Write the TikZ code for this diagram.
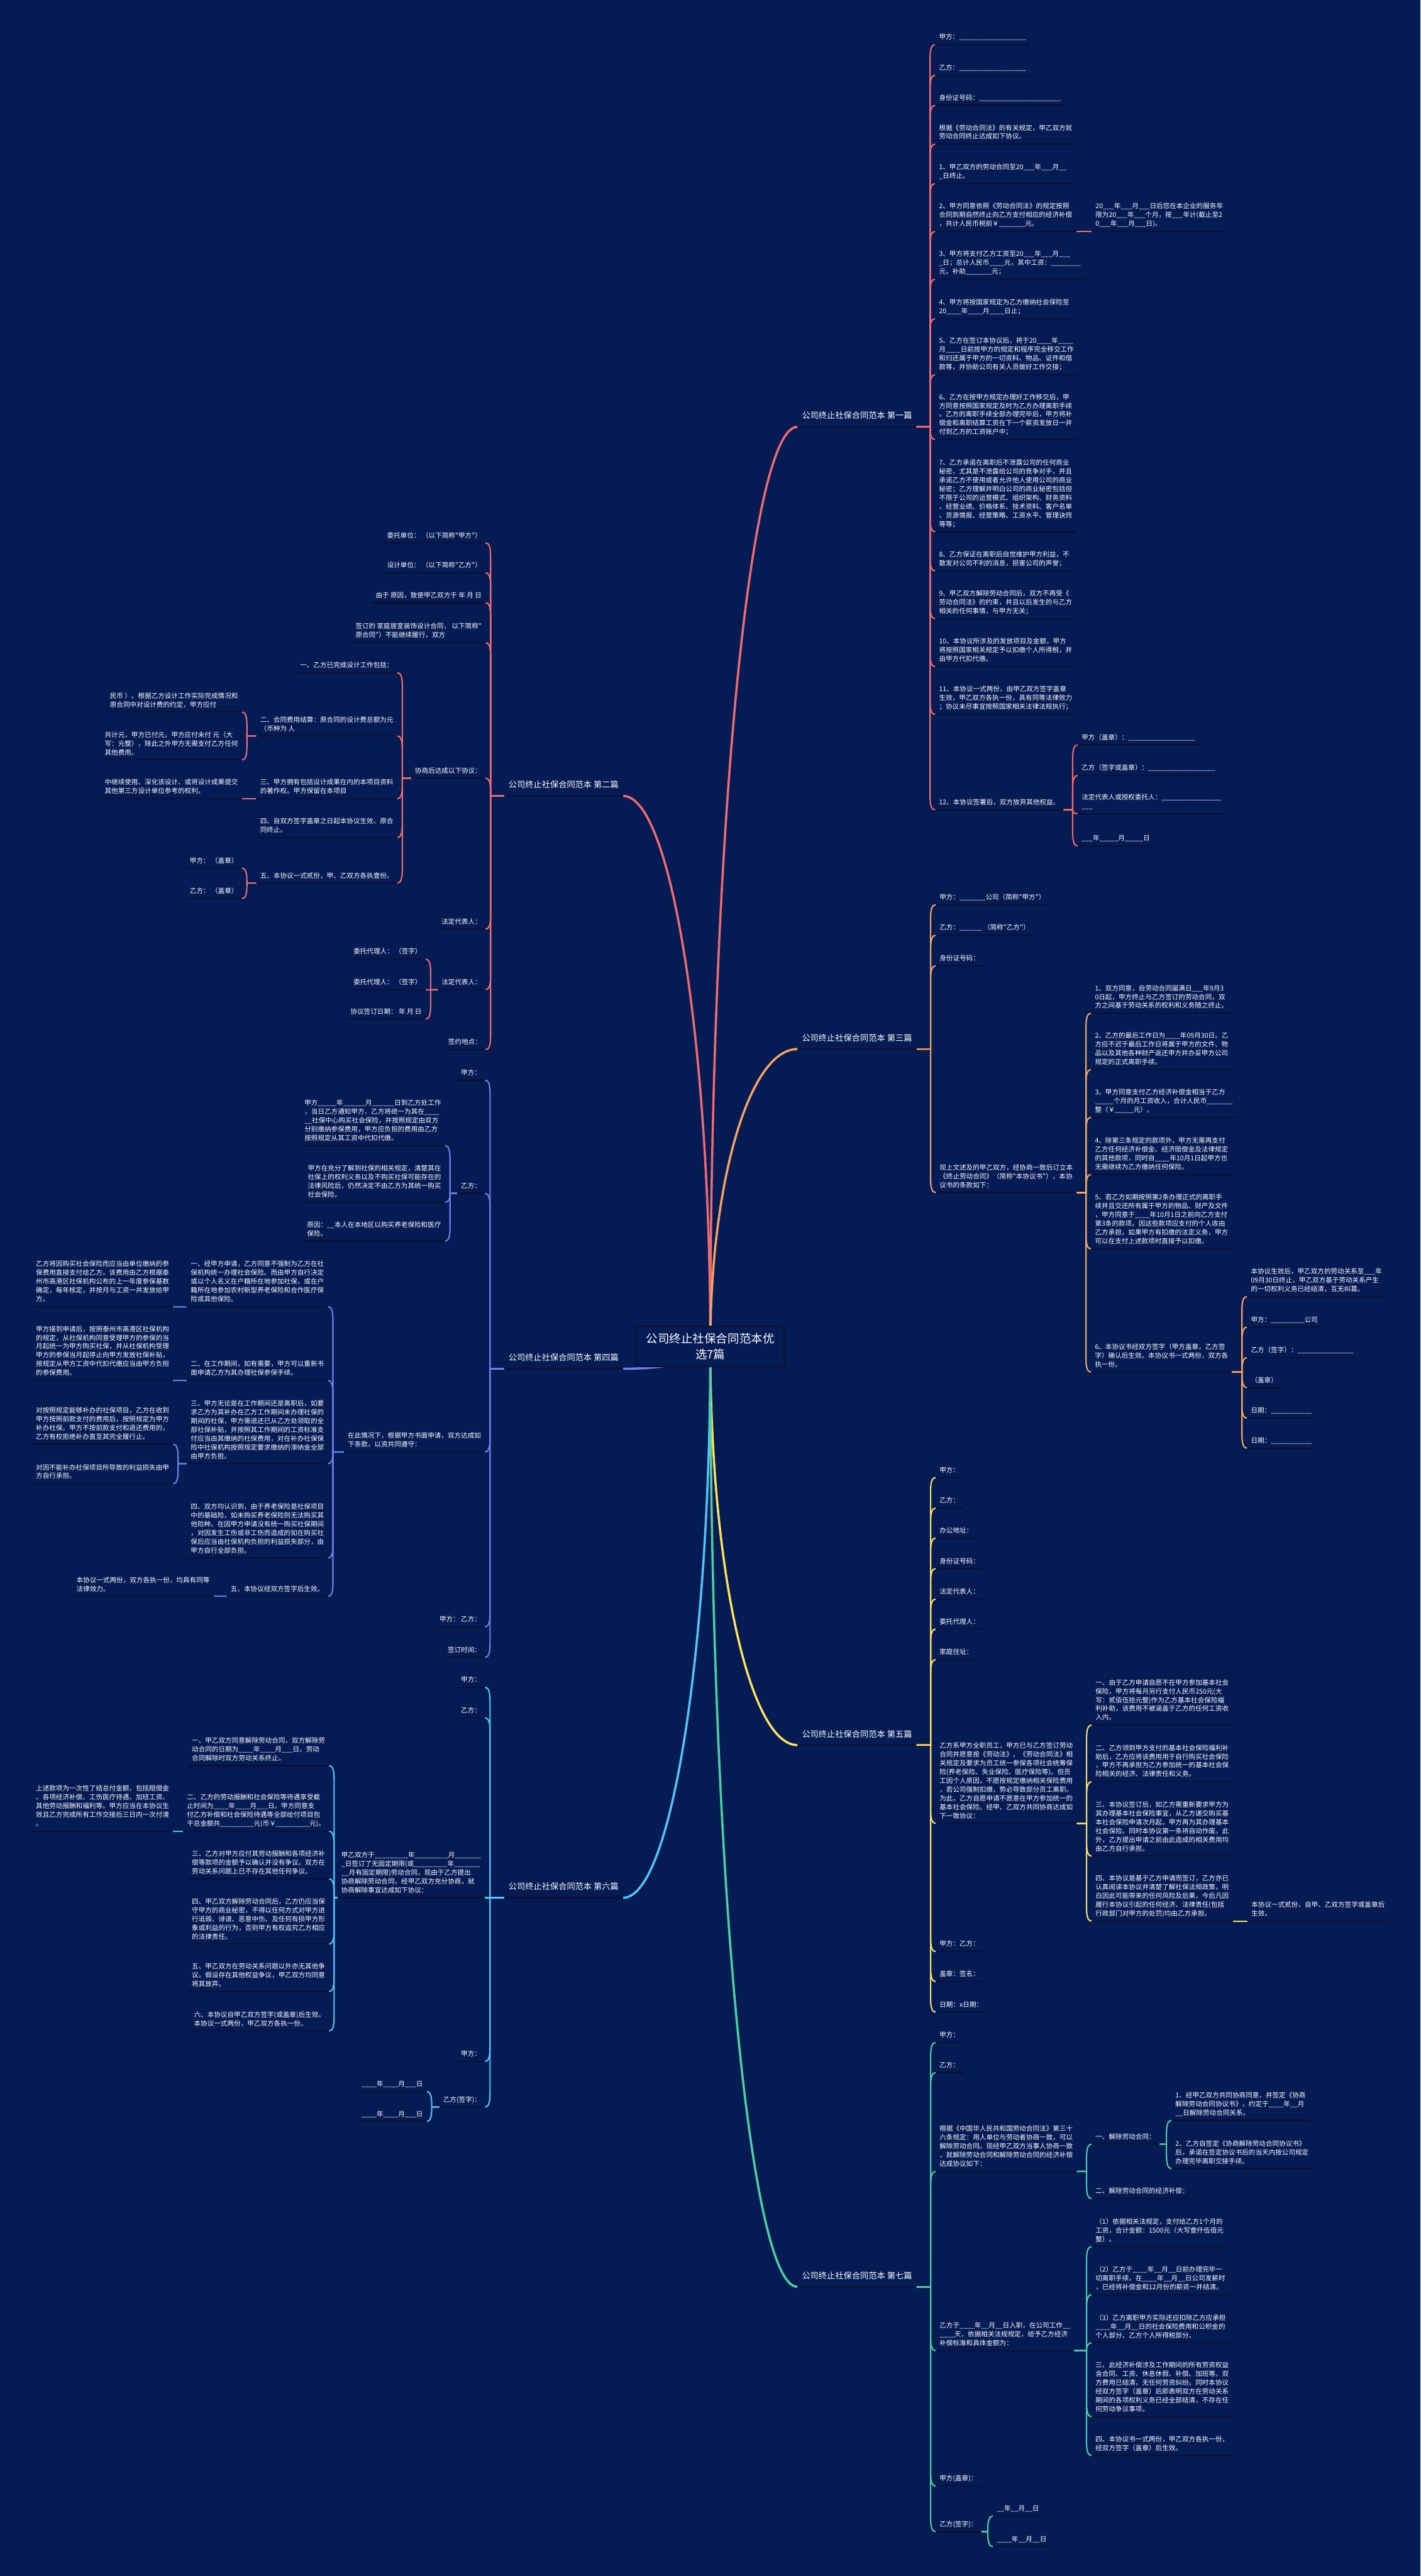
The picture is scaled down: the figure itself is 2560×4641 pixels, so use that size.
\documentclass[tikz,border=0pt]{standalone}
\usepackage{fontspec}
\newfontfamily\cjk{Noto Sans CJK SC}
\usetikzlibrary{calc}
\definecolor{bg}{HTML}{051B54}
\definecolor{ulc}{HTML}{0B1030}
\definecolor{cA}{HTML}{F06A6F}
\definecolor{cB}{HTML}{F7A35E}
\definecolor{cC}{HTML}{6F80E8}
\definecolor{cD}{HTML}{FDE15B}
\definecolor{cE}{HTML}{53C5F5}
\definecolor{cF}{HTML}{4CD0A0}
\newcount\ulxc
\newcommand\ulx[1]{\ulxc=#1\relax\loop\ifnum\ulxc>0 \_\advance\ulxc by -1\relax\repeat}
\tikzset{
 leaf/.style={font=\cjk\fontsize{12}{15.8}\selectfont, text=white, align=left, inner xsep=7pt, inner ysep=4.3pt, execute at end node=\strut},
 lab/.style={font=\cjk\fontsize{15}{18}\selectfont, text=white, inner xsep=8pt, inner ysep=8.9pt, execute at end node=\strut},
 uline/.style={draw=ulc, line width=2.4pt},
 conn/.style={line width=2.4pt},
 mainl/.style={line width=4pt}
}
\newcommand\nR[4]{\node[leaf,anchor=south west] (#1) at (#2,#3) {#4};\draw[uline] (#1.south west) -- (#1.south east);}
\newcommand\nL[4]{\node[leaf,anchor=south east] (#1) at (#2,#3) {#4};\draw[uline] (#1.south west) -- (#1.south east);}
\newcommand\cR[3]{\draw[conn,#1] let \p1=(#2.south east), \p2=(#3.south west), \n1={sign(\y1-(\y2))}, \n2={min(24,abs(\y1-(\y2)))} in (\p1) -- (\x2-9pt,\y1) -- (\x2-9pt,{\y2+(\n1)*(\n2)*1pt}) .. controls (\x2-9pt,{\y2+(\n1)*(\n2)*0.3pt}) and (\x2-6pt,\y2) .. (\p2);}
\newcommand\cL[3]{\draw[conn,#1] let \p1=(#2.south west), \p2=(#3.south east), \n1={sign(\y1-(\y2))}, \n2={min(24,abs(\y1-(\y2)))} in (\p1) -- (\x2+9pt,\y1) -- (\x2+9pt,{\y2+(\n1)*(\n2)*1pt}) .. controls (\x2+9pt,{\y2+(\n1)*(\n2)*0.3pt}) and (\x2+6pt,\y2) .. (\p2);}
\newcommand\cM[3]{\draw[mainl,#1] let \p0=(ctrc), \p1=(#2.#3) in (\p0) .. controls (\x0,{\y0+0.552*(\y1-(\y0))}) and ({\x1-0.552*(\x1-(\x0))},\y1) .. (\p1);}
\begin{document}
\begin{tikzpicture}[x=1pt,y=-1pt]
\fill[bg] (0,0) rectangle (2560,4641);
\useasboundingbox (0,0) rectangle (2560,4641);
\coordinate (ctrc) at (1280,2426);
% ---------- labels
\node[lab,anchor=south west] (L1) at (1437,769) {公司终止社保合同范本 第一篇};
\node[lab,anchor=south east] (L2) at (1123,1434) {公司终止社保合同范本 第二篇};
\node[lab,anchor=south west] (L3) at (1437,1890) {公司终止社保合同范本 第三篇};
\node[lab,anchor=south east] (L4) at (1123,2466) {公司终止社保合同范本 第四篇};
\node[lab,anchor=south west] (L5) at (1437,3144) {公司终止社保合同范本 第五篇};
\node[lab,anchor=south east] (L6) at (1123,3419) {公司终止社保合同范本 第六篇};
\node[lab,anchor=south west] (L7) at (1437,4120) {公司终止社保合同范本 第七篇};
\foreach \l in {L1,L2,L3,L4,L5,L6,L7}{\draw[uline] (\l.south west) -- (\l.south east);}
% ---------- branch 1
\nR{a1}{1685}{80.5}{甲方：\ulx{18}}
\nR{a2}{1685}{135.6}{乙方：\ulx{18}}
\nR{a3}{1685}{189.8}{身份证号码：\ulx{22}}
\nR{a4}{1685}{259.6}{根据《劳动合同法》的有关规定，甲乙双方就\\劳动合同终止达成如下协议。}
\nR{a5}{1685}{330.8}{1、甲乙双方的劳动合同至20\ulx{3}年\ulx{3}月\ulx{2}\\\ulx{1}日终止。}
\nR{a6}{1685}{417}{2、甲方同意依照《劳动合同法》的规定按照\\合同到期自然终止向乙方支付相应的经济补偿\\，共计人民币税前￥\ulx{7}元。}
\nR{a6a}{1967}{417}{20\ulx{3}年\ulx{3}月\ulx{3}日后您在本企业的服务年\\限为20\ulx{3}年\ulx{3}个月，按\ulx{3}年计(截止至2\\0\ulx{3}年\ulx{3}月\ulx{3}日)。}
\nR{a7}{1685}{503}{3、甲方将支付乙方工资至20\ulx{3}年\ulx{3}月\ulx{3}\\\ulx{1}日；总计人民币\ulx{4}元，其中工资：\ulx{8}\\元，补助\ulx{7}元；}
\nR{a8}{1685}{574}{4、甲方将按国家规定为乙方缴纳社会保险至\\20\ulx{4}年\ulx{4}月\ulx{4}日止；}
\nR{a9}{1685}{675}{5、乙方在签订本协议后，将于20\ulx{4}年\ulx{4}\\月\ulx{4}日前按甲方的规定和程序完全移交工作\\和归还属于甲方的一切资料、物品、证件和借\\款等，并协助公司有关人员做好工作交接；}
\nR{a10}{1685}{792}{6、乙方在按甲方规定办理好工作移交后，甲\\方同意按照国家规定及时为乙方办理离职手续\\。乙方的离职手续全部办理完毕后，甲方将补\\偿金和离职结算工资在下一个薪资发放日一并\\付到乙方的工资账户中；}
\nR{a11}{1685}{958}{7、乙方承诺在离职后不泄露公司的任何商业\\秘密，尤其是不泄露给公司的竞争对手，并且\\承诺乙方不使用或者允许他人使用公司的商业\\秘密；乙方理解并明白公司的商业秘密包括但\\不限于公司的运营模式、组织架构、财务资料\\、经营业绩、价格体系、技术资料、客户名单\\、货源情报、经营策略、工资水平、管理诀窍\\等等；}
\nR{a12}{1685}{1028.5}{8、乙方保证在离职后自觉维护甲方利益，不\\散发对公司不利的消息，损害公司的声誉；}
\nR{a13}{1685}{1114.5}{9、甲乙双方解除劳动合同后，双方不再受《\\劳动合同法》的约束，并且以后发生的与乙方\\相关的任何事情，与甲方无关；}
\nR{a14}{1685}{1201}{10、本协议所涉及的发放项目及金额，甲方\\将按照国家相关规定予以扣缴个人所得税，并\\由甲方代扣代缴。}
\nR{a15}{1685}{1287}{11、本协议一式两份，由甲乙双方签字盖章\\生效，甲乙双方各执一份，具有同等法律效力\\；协议未尽事宜按照国家相关法律法规执行；}
\nR{a16}{1685}{1459}{12、本协议签署后，双方放弃其他权益。}
\nR{a16a}{1942}{1342}{甲方（盖章）：\ulx{18}}
\nR{a16b}{1942}{1397}{乙方（签字或盖章）：\ulx{18}}
\nR{a16c}{1942}{1466}{法定代表人或授权委托人：\ulx{16}\\\ulx{3}}
\nR{a16d}{1942}{1524}{\ulx{3}年\ulx{5}月\ulx{5}日}
\foreach \c in {a1,a2,a3,a4,a5,a6,a7,a8,a9,a10,a11,a12,a13,a14,a15,a16}{\cR{cA}{L1}{\c}}
\cR{cA}{a6}{a6a}
\foreach \c in {a16a,a16b,a16c,a16d}{\cR{cA}{a16}{\c}}
% ---------- branch 2
\nL{b1}{875}{978}{委托单位： （以下简称"甲方"）}
\nL{b2}{875}{1032}{设计单位： （以下简称"乙方"）}
\nL{b3}{875}{1086}{由于 原因，致使甲乙双方于 年 月 日}
\nL{b4}{875}{1158}{签订的 家庭居室装饰设计合同， 以下简称"\\原合同"）不能继续履行，双方}
\nL{b5}{875}{1402}{协商后达成以下协议：}
\nL{b5a}{716}{1212}{一、乙方已完成设计工作包括：}
\nL{b5b}{716}{1326}{二、合同费用结算：原合同的设计费总额为元\\（币种为 人}
\nL{b5b1}{436}{1283}{民币 ）。根据乙方设计工作实际完成情况和\\原合同中对设计费的约定，甲方应付}
\nL{b5b2}{436}{1369}{共计元，甲方已付元，甲方应付未付 元（大\\写：元整），除此之外甲方无需支付乙方任何\\其他费用。}
\nL{b5c}{716}{1439}{三、甲方拥有包括设计成果在内的本项目资料\\的著作权。甲方保留在本项目}
\nL{b5c1}{436}{1439}{中继续使用、深化该设计、或将设计成果提交\\其他第三方设计单位参考的权利。}
\nL{b5d}{716}{1509}{四、自双方签字盖章之日起本协议生效、原合\\同终止。}
\nL{b5e}{716}{1591}{五、本协议一式贰份，甲、乙双方各执壹份。}
\nL{b5e1}{436}{1564}{甲方： （盖章）}
\nL{b5e2}{436}{1619}{乙方： （盖章）}
\nL{b6}{875}{1674}{法定代表人：}
\nL{b7}{875}{1783}{法定代表人：}
\nL{b7a}{767}{1728}{委托代理人： （签字）}
\nL{b7b}{767}{1783}{委托代理人： （签字）}
\nL{b7c}{767}{1836}{协议签订日期： 年 月 日}
\nL{b8}{875}{1891}{签约地点：}
\foreach \c in {b1,b2,b3,b4,b5,b6,b7,b8}{\cL{cA}{L2}{\c}}
\foreach \c in {b5a,b5b,b5c,b5d,b5e}{\cL{cA}{b5}{\c}}
\foreach \c in {b5b1,b5b2}{\cL{cA}{b5b}{\c}}
\cL{cA}{b5c}{b5c1}
\foreach \c in {b5e1,b5e2}{\cL{cA}{b5e}{\c}}
\foreach \c in {b7a,b7b,b7c}{\cL{cA}{b7}{\c}}
% ---------- branch 3
\nR{c1}{1686}{1630}{甲方：\ulx{7}公司（简称"甲方"）}
\nR{c2}{1686}{1685}{乙方：\ulx{6} （简称"乙方"）}
\nR{c3}{1686}{1740}{身份证号码：}
\nR{c4}{1686}{2148.5}{现上文述及的甲乙双方，经协商一致后订立本\\《终止劳动合同》（简称"本协议书"），本协\\议书的条款如下：}
\nR{c4a}{1966}{1825.5}{1、双方同意，自劳动合同届满日\ulx{3}年9月3\\0日起，甲方终止与乙方签订的劳动合同，双\\方之间基于劳动关系的权利和义务随之终止。}
\nR{c4b}{1966}{1927}{2、乙方的最后工作日为\ulx{4}年09月30日。乙\\方应不迟于最后工作日将属于甲方的文件、物\\品以及其他各种财产返还甲方并办妥甲方公司\\规定的正式离职手续。}
\nR{c4c}{1966}{2013}{3、甲方同意支付乙方经济补偿金相当于乙方\\\ulx{5}个月的月工资收入，合计人民币\ulx{7}\\整（￥\ulx{5}元）。}
\nR{c4d}{1966}{2116}{4、除第三条规定的款项外，甲方无需再支付\\乙方任何经济补偿金、经济赔偿金及法律规定\\的其他款项，同时自\ulx{4}年10月1日起甲方也\\无需继续为乙方缴纳任何保险。}
\nR{c4e}{1966}{2250}{5、若乙方如期按照第2条办理正式的离职手\\续并且交还所有属于甲方的物品、财产及文件\\，甲方同意于\ulx{4}年10月1日之前向乙方支付\\第3条的款项。因这些款项应支付的个人收由\\乙方承担，如果甲方有扣缴的法定义务，甲方\\可以在支付上述款项时直接予以扣缴。}
\nR{c4f}{1966}{2472}{6、本协议书经双方签字（甲方盖章，乙方签\\字）确认后生效。本协议书一式两份，双方各\\执一份。}
\nR{c4f1}{2247}{2336}{本协议生效后，甲乙双方的劳动关系至\ulx{3}年\\09月30日终止，甲乙双方基于劳动关系产生\\的一切权利义务已经结清，互无纠葛。}
\nR{c4f2}{2247}{2391}{甲方：\ulx{9}公司}
\nR{c4f3}{2247}{2446}{乙方（签字）：\ulx{15}}
\nR{c4f4}{2247}{2500}{（盖章）}
\nR{c4f5}{2247}{2555}{日期：\ulx{11}}
\nR{c4f6}{2247}{2609}{日期：\ulx{11}}
\foreach \c in {c1,c2,c3,c4}{\cR{cB}{L3}{\c}}
\foreach \c in {c4a,c4b,c4c,c4d,c4e,c4f}{\cR{cB}{c4}{\c}}
\foreach \c in {c4f1,c4f2,c4f3,c4f4,c4f5,c4f6}{\cR{cB}{c4f}{\c}}
% ---------- branch 4
\nL{d1}{874}{1946}{甲方：}
\nL{d2}{874}{2150}{乙方：}
\nL{d2a}{802}{2064}{甲方\ulx{5}年\ulx{6}月\ulx{6}日到乙方处工作\\，当日乙方通知甲方，乙方将统一为其在\ulx{4}\\\ulx{2}社保中心购买社会保险，并按照规定由双方\\分别缴纳参保费用，甲方应负担的费用由乙方\\按照规定从其工资中代扣代缴。}
\nL{d2b}{802}{2166}{甲方在充分了解到社保的相关规定，清楚其在\\社保上的权利义务以及不购买社保可能存在的\\法律风险后，仍然决定不由乙方为其统一购买\\社会保险。}
\nL{d2c}{802}{2236}{原因：\ulx{2}本人在本地区以购买养老保险和医疗\\保险。}
\nL{d3}{874}{2616}{在此情况下，根据甲方书面申请，双方达成如\\下条款，以资共同遵守：}
\nL{d3a}{591}{2354}{一、经甲方申请，乙方同意不强制为乙方在社\\保机构统一办理社会保险。而由甲方自行决定\\或以个人名义在户籍所在地参加社保，或在户\\籍所在地参加农村新型养老保险和合作医疗保\\险或其他保险。}
\nL{d3a1}{312}{2354}{乙方将因购买社会保险而应当由单位缴纳的参\\保费用直接支付给乙方。该费用由乙方根据泰\\州市高港区社保机构公布的上一年度参保基数\\确定，每年核定，并按月与工资一并发放给甲\\方。}
\nL{d3b}{591}{2487}{二、在工作期间，如有需要，甲方可以重新书\\面申请乙方为其办理社保参保手续。}
\nL{d3b1}{312}{2487}{甲方接到申请后，按照泰州市高港区社保机构\\的规定，从社保机构同意受理甲方的参保的当\\月起统一为甲方购买社保，并从社保机构受理\\甲方的参保当月起停止向甲方发放社保补贴，\\按规定从甲方工资中代扣代缴应当由甲方负担\\的参保费用。}
\nL{d3c}{591}{2637}{三、甲方无论是在工作期间还是离职后，如要\\求乙方为其补办在乙方工作期间未办理社保的\\期间的社保，甲方需退还已从乙方处领取的全\\部社保补贴，并按照其工作期间的工资标准支\\付应当由其缴纳的社保费用，对在补办社保保\\险中社保机构按照规定要求缴纳的滞纳金全部\\由甲方负担。}
\nL{d3c1}{312}{2602}{对按照规定能够补办的社保项目，乙方在收到\\甲方按照前款支付的费用后，按照规定为甲方\\补办社保。甲方不按前款支付和退还费用的，\\乙方有权拒绝补办直至其完全履行止。}
\nL{d3c2}{312}{2673}{对因不能补办社保项目所导致的利益损失由甲\\方自行承担。}
\nL{d3d}{591}{2807}{四、双方均认识到，由于养老保险是社保项目\\中的基础险，如未购买养老保险则无法购买其\\他险种。在因甲方申请没有统一购买社保期间\\，对因发生工伤或非工伤而造成的如在购买社\\保后应当由社保机构负担的利益损失部分，由\\甲方自行全部负担。}
\nL{d3e}{591}{2876}{五、本协议经双方签字后生效。}
\nL{d3e1}{385}{2876}{本协议一式两份，双方各执一份，均具有同等\\法律效力。}
\nL{d4}{874}{2931}{甲方： 乙方：}
\nL{d5}{874}{2986}{签订时间：}
\foreach \c in {d1,d2,d3,d4,d5}{\cL{cC}{L4}{\c}}
\foreach \c in {d2a,d2b,d2c}{\cL{cC}{d2}{\c}}
\foreach \c in {d3a,d3b,d3c,d3d,d3e}{\cL{cC}{d3}{\c}}
\cL{cC}{d3a}{d3a1}
\cL{cC}{d3b}{d3b1}
\foreach \c in {d3c1,d3c2}{\cL{cC}{d3c}{\c}}
\cL{cC}{d3e}{d3e1}
% ---------- branch 5
\nR{e1}{1686}{2662}{甲方：}
\nR{e2}{1686}{2717}{乙方：}
\nR{e3}{1686}{2771}{办公地址：}
\nR{e4}{1686}{2826}{身份证号码：}
\nR{e5}{1686}{2881}{法定代表人：}
\nR{e6}{1686}{2935}{委托代理人：}
\nR{e7}{1686}{2990}{家庭住址：}
\nR{e8}{1686}{3285}{乙方系甲方全职员工，甲方已与乙方签订劳动\\合同并愿意按《劳动法》、《劳动合同法》相\\关规定及要求为员工统一参保各项社会统筹保\\险(养老保险、失业保险、医疗保险等)。但员\\工因个人原因，不愿按规定缴纳相关保险费用\\，若公司强制扣缴，势必导致部分员工离职。\\为此，乙方自愿申请不愿意在甲方参加统一的\\基本社会保险。经甲、乙双方共同协商达成如\\下一致协议：}
\nR{e8a}{1967}{3108}{一、由于乙方申请自愿不在甲方参加基本社会\\保险，甲方将每月另行支付人民币250元(大\\写：贰佰伍拾元整)作为乙方基本社会保险福\\利补助，该费用不被涵盖于乙方的任何工资收\\入内。}
\nR{e8b}{1967}{3210}{二、乙方领到甲方支付的基本社会保险福利补\\助后，乙方应将该费用用于自行购买社会保险\\，甲方不再承担为乙方参加统一的基本社会保\\险相关的经济、法律责任和义务。}
\nR{e8c}{1967}{3344}{三、本协议签订后，如乙方需重新要求甲方为\\其办理基本社会保险事宜，从乙方递交购买基\\本社会保险申请次月起，甲方再为其办理基本\\社会保险。同时本协议第一条将自动作废。此\\外，乙方提出申请之前由此造成的相关费用均\\由乙方自行承担。}
\nR{e8d}{1967}{3461}{四、本协议是基于乙方申请而签订，乙方亦已\\认真阅读本协议并清楚了解社保法规政策，明\\白因此可能带来的任何风险及后果，今后凡因\\履行本协议引起的任何经济、法律责任(包括\\行政部门对甲方的处罚)均由乙方承担。}
\nR{e8d1}{2248}{3461}{本协议一式贰份，自甲、乙双方签字或盖章后\\生效。}
\nR{e9}{1686}{3516}{甲方：乙方：}
\nR{e10}{1686}{3570}{盖章：签名：}
\nR{e11}{1686}{3625}{日期：x日期：}
\foreach \c in {e1,e2,e3,e4,e5,e6,e7,e8,e9,e10,e11}{\cR{cD}{L5}{\c}}
\foreach \c in {e8a,e8b,e8c,e8d}{\cR{cD}{e8}{\c}}
\cR{cD}{e8d}{e8d1}
% ---------- branch 6
\nL{f1}{874}{3040}{甲方：}
\nL{f2}{874}{3095}{乙方：}
\nL{f3}{874}{3419}{甲乙双方于\ulx{9}年\ulx{9}月\ulx{7}\\\ulx{1}日签订了无固定期限(或\ulx{9}年\ulx{7}\\\ulx{2}月有固定期限)劳动合同，现由于乙方提出\\协商解除劳动合同，经甲乙双方充分协商，就\\协商解除事宜达成如下协议：}
\nL{f3a}{593}{3181}{一、甲乙双方同意解除劳动合同，双方解除劳\\动合同的日期为\ulx{4}年\ulx{4}月\ulx{3}日。劳动\\合同解除时双方劳动关系终止。}
\nL{f3b}{593}{3299}{二、乙方的劳动报酬和社会保险等待遇享受截\\止时间为\ulx{4}年\ulx{4}月\ulx{3}日。甲方同意支\\付乙方补偿和社会保险待遇等全部给付项目包\\干总金额共\ulx{9}元(币￥\ulx{9}元)。}
\nL{f3b1}{312}{3299}{上述款项为一次性了结总付金额，包括赔偿金\\、各项经济补偿、工伤医疗待遇、加班工资、\\其他劳动报酬和福利等。甲方应当在本协议生\\效且乙方完成所有工作交接后三日内一次付清\\。}
\nL{f3c}{593}{3385}{三、乙方对甲方应付其劳动报酬和各项经济补\\偿等款项的金额予以确认并没有争议。双方在\\劳动关系问题上已不存在其他任何争议。}
\nL{f3d}{593}{3502.5}{四、甲乙双方解除劳动合同后，乙方仍应当保\\守甲方的商业秘密，不得以任何方式对甲方进\\行诋毁、诽谤、恶意中伤、及任何有损甲方形\\象或利益的行为，否则甲方有权追究乙方相应\\的法律责任。}
\nL{f3e}{593}{3588}{五、甲乙双方在劳动关系问题以外亦无其他争\\议。假设存在其他权益争议，甲乙双方均同意\\将其放弃。}
\nL{f3f}{593}{3659}{六、本协议自甲乙双方签字(或盖章)后生效。\\本协议一式两份，甲乙双方各执一份。}
\nL{f4}{874}{3714}{甲方：}
\nL{f5}{874}{3796}{乙方(签字)：}
\nL{f5a}{769}{3768}{\ulx{4}年\ulx{4}月\ulx{3}日}
\nL{f5b}{769}{3822}{\ulx{4}年\ulx{4}月\ulx{3}日}
\foreach \c in {f1,f2,f3,f4,f5}{\cL{cE}{L6}{\c}}
\foreach \c in {f3a,f3b,f3c,f3d,f3e,f3f}{\cL{cE}{f3}{\c}}
\cL{cE}{f3b}{f3b1}
\foreach \c in {f5a,f5b}{\cL{cE}{f5}{\c}}
% ---------- branch 7
\nR{g1}{1686}{3680}{甲方：}
\nR{g2}{1686}{3734}{乙方：}
\nR{g3}{1686}{3912}{根据《中国华人民共和国劳动合同法》第三十\\六条规定：用人单位与劳动者协商一致，可以\\解除劳动合同。现经甲乙双方当事人协商一致\\，就解除劳动合同和解除劳动合同的经济补偿\\达成协议如下：}
\nR{g3a}{1967}{3863}{一、解除劳动合同：}
\nR{g3a1}{2111}{3820}{1、经甲乙双方共同协商同意，并签定《协商\\解除劳动合同协议书》，约定于\ulx{4}年\ulx{2}月\\\ulx{2}日解除劳动合同关系。}
\nR{g3a2}{2111}{3907}{2、乙方自签定《协商解除劳动合同协议书》\\后，承诺在签定协议书后的当天内按公司规定\\办理完毕离职交接手续。}
\nR{g3b}{1967}{3961}{二、解除劳动合同的经济补偿：}
\nR{g4}{1686}{4235}{乙方于\ulx{4}年\ulx{2}月\ulx{2}日入职，在公司工作\ulx{2}\\\ulx{4}天，依据相关法规规定，给予乙方经济\\补偿标准和具体金额为：}
\nR{g4a}{1967}{4047.5}{（1）依据相关法规定，支付给乙方1个月的\\工资，合计金额：1500元（大写壹仟伍佰元\\整）。}
\nR{g4b}{1967}{4134}{（2）乙方于\ulx{4}年\ulx{2}月\ulx{2}日前办理完毕一\\切离职手续，在\ulx{4}年\ulx{2}月\ulx{2}日公司发薪时\\，已经将补偿金和12月份的薪资一并结清。}
\nR{g4c}{1967}{4221}{（3）乙方离职甲方实际还应扣除乙方应承担\\\ulx{4}年\ulx{2}月\ulx{2}日的社会保险费用和公积金的\\个人部分、乙方个人所得税部分。}
\nR{g4d}{1967}{4354}{三、此经济补偿涉及工作期间的所有劳资权益\\含合同、工资、休息休假、补偿、加班等。双\\方费用已结清，无任何劳资纠纷。同时本协议\\经双方签字（盖章）后即表明双方在劳动关系\\期间的各项权利义务已经全部结清，不存在任\\何劳动争议事项。}
\nR{g4e}{1967}{4424}{四、本协议书一式两份，甲乙双方各执一份，\\经双方签字（盖章）后生效。}
\nR{g5}{1686}{4479}{甲方(盖章)：}
\nR{g6}{1686}{4561}{乙方(签字)：}
\nR{g6a}{1789}{4533}{\ulx{2}年\ulx{2}月\ulx{2}日}
\nR{g6b}{1789}{4588}{\ulx{4}年\ulx{2}月\ulx{2}日}
\foreach \c in {g1,g2,g3,g4,g5,g6}{\cR{cF}{L7}{\c}}
\foreach \c in {g3a,g3b}{\cR{cF}{g3}{\c}}
\foreach \c in {g3a1,g3a2}{\cR{cF}{g3a}{\c}}
\foreach \c in {g4a,g4b,g4c,g4d,g4e}{\cR{cF}{g4}{\c}}
\foreach \c in {g6a,g6b}{\cR{cF}{g6}{\c}}
% ---------- main curves
\cM{cA}{L1}{south west}
\cM{cA}{L2}{south east}
\cM{cB}{L3}{south west}
\cM{cC}{L4}{south east}
\cM{cD}{L5}{south west}
\cM{cE}{L6}{south east}
\cM{cF}{L7}{south west}
\node[font=\cjk\fontsize{21}{28}\selectfont, text=white, align=center, fill=bg, draw=ulc, line width=2pt, minimum width=266pt, minimum height=73pt, inner sep=4pt] (ctr) at (1280,2426) {公司终止社保合同范本优\\选7篇};
\end{tikzpicture}
\end{document}
